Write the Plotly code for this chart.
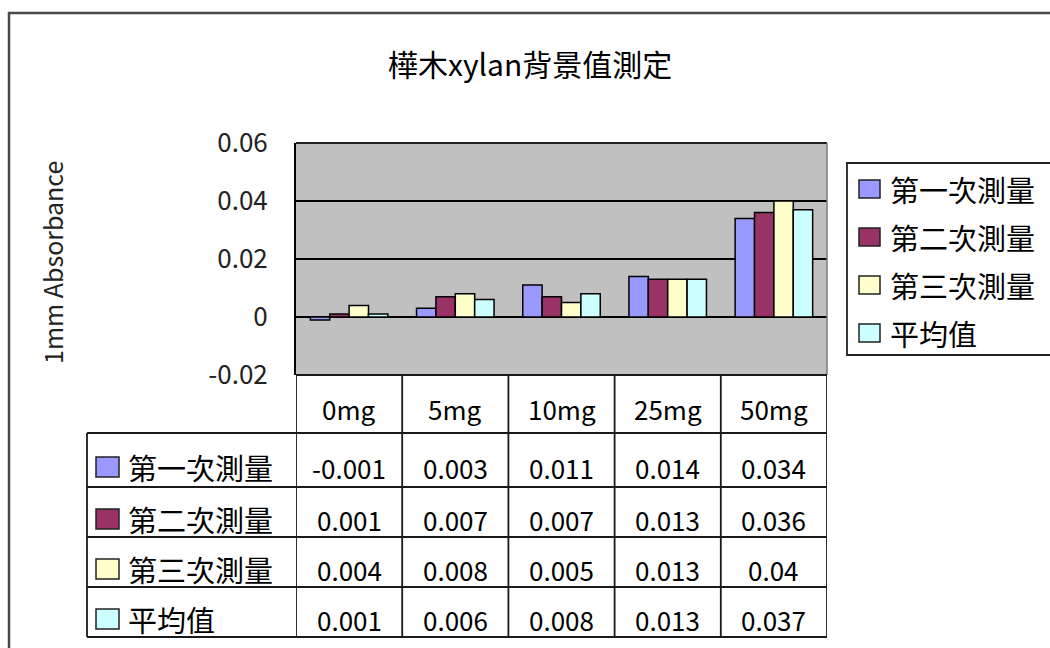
import plotly.graph_objects as go

# ---- data -------------------------------------------------------------
categories = ["0mg", "5mg", "10mg", "25mg", "50mg"]
series_names = ["第一次測量", "第二次測量", "第三次測量", "平均值"]
run1 = [-0.001, 0.003, 0.011, 0.014, 0.034]
run2 = [0.001, 0.007, 0.007, 0.013, 0.036]
run3 = [0.004, 0.008, 0.005, 0.013, 0.04]
mean_vals = [0.001, 0.006, 0.008, 0.013, 0.037]
y_ticks = [-0.02, 0, 0.02, 0.04, 0.06]
y_tick_text = ["-0.02", "0", "0.02", "0.04", "0.06"]
title_text = "樺木xylan背景值測定"
y_title = "1mm Absorbance"

# ---- styling / layout constants ---------------------------------------
W, H = 1050, 648
FONT = "Noto Sans CJK TC"
colors = ["#9999FF", "#993366", "#FFFFCC", "#CCFFFF"]
PL, PR, PT, PB = 296, 827, 143, 375          # plot area (px)
TABLE_LEFT = 87
row_edges = [375, 433, 487, 537, 587, 637]   # header row + 4 data rows
LINE = "#1a1a1a"


def fx(p):
    return p / W


def fy(p):
    return 1 - p / H


all_series = [run1, run2, run3, mean_vals]

fig = go.Figure()
for name, vals, col in zip(series_names, all_series, colors):
    fig.add_trace(go.Bar(
        x=categories, y=vals, name=name,
        marker=dict(color=col, line=dict(color="black", width=1.5)),
        showlegend=False,
    ))

shapes = []
annotations = []

# outer chart frame
shapes.append(dict(type="rect", xref="paper", yref="paper",
                   x0=fx(9), x1=fx(1070), y0=fy(13), y1=fy(680),
                   line=dict(color="#4a4a4a", width=2.5), fillcolor="rgba(0,0,0,0)"))

# plot-area border (top / right)
shapes.append(dict(type="line", xref="paper", yref="paper",
                   x0=fx(PL), x1=fx(PR), y0=fy(PT), y1=fy(PT),
                   line=dict(color="#202020", width=2)))
shapes.append(dict(type="line", xref="paper", yref="paper",
                   x0=fx(PR), x1=fx(PR), y0=fy(PT), y1=fy(PB),
                   line=dict(color="#7a7a7a", width=1.5)))

# ---- data table -------------------------------------------------------
# vertical lines at category boundaries (shared with the x axis)
for i in range(len(categories) + 1):
    shapes.append(dict(type="line", xref="x", yref="paper",
                       x0=i - 0.5, x1=i - 0.5, y0=fy(row_edges[0]), y1=fy(row_edges[-1]),
                       line=dict(color=LINE, width=1.8)))
# left border of the series-label column
shapes.append(dict(type="line", xref="paper", yref="paper",
                   x0=fx(TABLE_LEFT), x1=fx(TABLE_LEFT), y0=fy(row_edges[1]), y1=fy(row_edges[-1]),
                   line=dict(color=LINE, width=1.8)))
# horizontal lines
shapes.append(dict(type="line", xref="paper", yref="paper",
                   x0=fx(PL), x1=fx(PR), y0=fy(row_edges[0]), y1=fy(row_edges[0]),
                   line=dict(color=LINE, width=1.8)))
for e in row_edges[1:]:
    shapes.append(dict(type="line", xref="paper", yref="paper",
                       x0=fx(TABLE_LEFT), x1=fx(PR), y0=fy(e), y1=fy(e),
                       line=dict(color=LINE, width=1.8)))

# header row: category labels
hdr_c = (row_edges[0] + row_edges[1]) / 2 + 4
for c in categories:
    annotations.append(dict(x=c, xref="x", y=fy(hdr_c), yref="paper",
                            text=c, showarrow=False, xanchor="center", yanchor="middle",
                            font=dict(family=FONT, size=26, color="black")))

# data rows
for r, (name, vals, col) in enumerate(zip(series_names, all_series, colors)):
    top, bot = row_edges[r + 1], row_edges[r + 2]
    cy = (top + bot) / 2 + 7
    shapes.append(dict(type="rect", xref="paper", yref="paper",
                       x0=fx(96), x1=fx(119), y0=fy(cy - 10), y1=fy(cy + 10),
                       fillcolor=col, line=dict(color="#222222", width=1.5)))
    annotations.append(dict(x=fx(126), xref="paper", y=fy(cy), yref="paper",
                            text=name, showarrow=False, xanchor="left", yanchor="middle",
                            font=dict(family=FONT, size=29, color="black")))
    for c, v in zip(categories, vals):
        annotations.append(dict(x=c, xref="x", y=fy(cy), yref="paper",
                                text=f"{v:g}", showarrow=False, xanchor="center",
                                yanchor="middle",
                                font=dict(family=FONT, size=26, color="black")))

# ---- legend box -------------------------------------------------------
LEG_L, LEG_T, LEG_B = 847, 163, 355
shapes.append(dict(type="rect", xref="paper", yref="paper",
                   x0=fx(LEG_L), x1=fx(1070), y0=fy(LEG_T), y1=fy(LEG_B),
                   line=dict(color="#222222", width=1.8), fillcolor="white"))
leg_step = (LEG_B - LEG_T) / len(series_names)
for k, (name, col) in enumerate(zip(series_names, colors)):
    cy = LEG_T + leg_step * (k + 0.5) + 2
    shapes.append(dict(type="rect", xref="paper", yref="paper",
                       x0=fx(859), x1=fx(880), y0=fy(cy - 9), y1=fy(cy + 9),
                       fillcolor=col, line=dict(color="#222222", width=1.5)))
    annotations.append(dict(x=fx(888), xref="paper", y=fy(cy), yref="paper",
                            text=name, showarrow=False, xanchor="left", yanchor="middle",
                            font=dict(family=FONT, size=29, color="black")))

# title and y-axis title
annotations.append(dict(x=fx(530), xref="paper", y=fy(63), yref="paper",
                        text=title_text, showarrow=False, xanchor="center", yanchor="middle",
                        font=dict(family=FONT, size=30, color="black")))
annotations.append(dict(x=fx(52), xref="paper", y=fy((PT + PB) / 2 + 4), yref="paper",
                        text=y_title, showarrow=False, textangle=-90,
                        xanchor="center", yanchor="middle",
                        font=dict(family=FONT, size=25, color="#222222")))

fig.update_layout(
    width=W, height=H,
    autosize=False,
    margin=dict(l=0, r=0, t=0, b=0, pad=0),
    paper_bgcolor="white",
    plot_bgcolor="#C0C0C0",
    barmode="group",
    bargap=0.27,
    bargroupgap=0,
    showlegend=False,
    shapes=shapes,
    annotations=annotations,
    xaxis=dict(domain=[fx(PL), fx(PR)], range=[-0.5, len(categories) - 0.5],
               showticklabels=False, showgrid=False, zeroline=False,
               showline=False, ticks="", automargin=False),
    yaxis=dict(domain=[fy(PB), fy(PT)], range=[y_ticks[0], y_ticks[-1]],
               tickvals=y_ticks, ticktext=y_tick_text,
               tickfont=dict(family=FONT, size=26, color="#222222"),
               ticks="outside", ticklen=21, tickcolor="rgba(0,0,0,0)",
               showgrid=True, gridcolor="black", gridwidth=1.5,
               zeroline=True, zerolinecolor="black", zerolinewidth=1.5,
               showline=True, linecolor="black", linewidth=2,
               automargin=False),
)

fig.write_html("out.html")
